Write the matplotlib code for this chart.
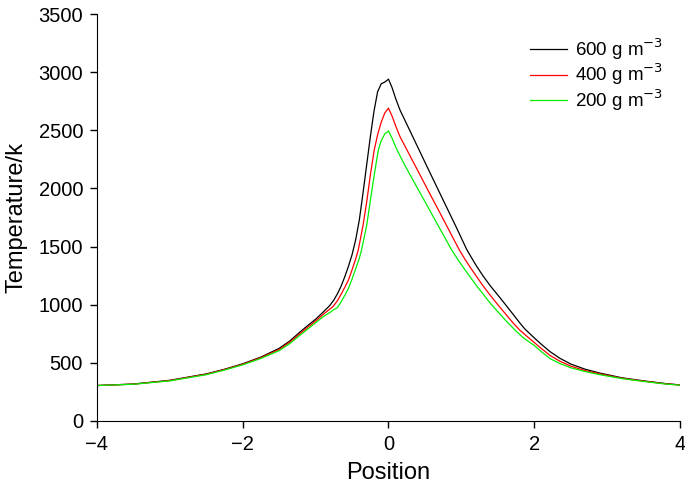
import numpy as np
import matplotlib
matplotlib.use("Agg")
import matplotlib.pyplot as plt

plt.rcParams['font.family'] = ['Liberation Sans', 'DejaVu Sans']

# 600 g m^-3 (black)
x_600 = [-4.0, -3.5, -3.0, -2.5, -2.25, -2.0, -1.75, -1.5, -1.35, -1.21, -1.1, -1.0, -0.9,
         -0.81, -0.75, -0.70, -0.65, -0.60, -0.55, -0.50, -0.45, -0.40, -0.35, -0.30,
         -0.25, -0.20, -0.15, -0.10, -0.05, 0.0, 0.05, 0.10, 0.158, 0.30, 0.432, 0.523,
         0.60, 0.70, 0.80, 0.935, 1.073, 1.2, 1.3, 1.4, 1.485, 1.6, 1.7, 1.8, 1.873,
         2.0, 2.1, 2.22, 2.35, 2.5, 2.7, 2.9, 3.2, 3.5, 3.8, 4.0]
t_600 = [305, 318, 350, 405, 445, 492, 550, 625, 690, 768, 825, 875, 935,
         990, 1040, 1095, 1160, 1240, 1330, 1430, 1560, 1730, 1960, 2200,
         2440, 2660, 2830, 2900, 2915, 2940, 2865, 2770, 2674, 2488, 2315, 2195,
         2095, 1965, 1835, 1660, 1475, 1340, 1245, 1160, 1095, 1005, 925, 845, 790,
         715, 658, 595, 540, 490, 445, 412, 372, 345, 322, 310]

# 400 g m^-3 (red)
x_400 = [-4.0, -3.5, -3.0, -2.5, -2.25, -2.0, -1.75, -1.5, -1.35, -1.21, -1.1, -1.0, -0.9,
         -0.8, -0.76, -0.70, -0.65, -0.60, -0.55, -0.50, -0.45, -0.415, -0.35, -0.30,
         -0.25, -0.196, -0.15, -0.10, -0.05, 0.0, 0.05, 0.10, 0.158, 0.25, 0.386, 0.50,
         0.60, 0.70, 0.80, 0.90, 0.973, 1.05, 1.118, 1.2, 1.3, 1.4, 1.5, 1.6, 1.7, 1.795,
         1.9, 2.0, 2.1, 2.22, 2.35, 2.5, 2.7, 2.9, 3.2, 3.5, 3.8, 4.0]
t_400 = [305, 317, 348, 402, 442, 488, 545, 615, 680, 754, 810, 860, 915,
         965, 985, 1035, 1090, 1150, 1212, 1300, 1395, 1470, 1680, 1880,
         2110, 2330, 2460, 2570, 2650, 2690, 2620, 2535, 2445, 2335, 2172, 2035,
         1915, 1797, 1677, 1557, 1470, 1390, 1325, 1250, 1160, 1078, 1000, 925, 850, 785,
         728, 675, 622, 562, 515, 472, 433, 405, 368, 343, 320, 310]

# 200 g m^-3 (green)
x_200 = [-4.0, -3.5, -3.0, -2.5, -2.25, -2.0, -1.75, -1.5, -1.35, -1.21, -1.1, -1.0, -0.9,
         -0.8, -0.75, -0.70, -0.65, -0.60, -0.55, -0.505, -0.45, -0.40, -0.37, -0.30,
         -0.255, -0.20, -0.14, -0.10, -0.05, 0.0, 0.05, 0.10, 0.158, 0.25, 0.35, 0.432,
         0.55, 0.65, 0.75, 0.867, 0.95, 1.05, 1.118, 1.2, 1.3, 1.4, 1.5, 1.6, 1.736,
         1.85, 2.0, 2.1, 2.22, 2.35, 2.5, 2.7, 2.9, 3.2, 3.5, 3.8, 4.0]
t_200 = [305, 316, 345, 398, 438, 483, 538, 605, 668, 740, 795, 845, 895,
         935, 958, 975, 1025, 1080, 1140, 1212, 1310, 1400, 1470, 1680,
         1870, 2100, 2330, 2410, 2470, 2494, 2430, 2355, 2280, 2169, 2056, 1963,
         1830, 1716, 1603, 1470, 1390, 1300, 1241, 1170, 1090, 1010, 940, 870, 782,
         715, 650, 595, 535, 495, 458, 425, 398, 365, 340, 318, 308]

labels = ['600 g m$^{-3}$', '400 g m$^{-3}$', '200 g m$^{-3}$']
colors = ['#000000', '#ff0000', '#00ee00']

fig = plt.figure(figsize=(6.85, 4.88), dpi=100)
ax = fig.add_axes([0.1416, 0.1373, 0.8511, 0.834])

ax.plot(x_600, t_600, color=colors[0], lw=0.9, label=labels[0])
ax.plot(x_400, t_400, color=colors[1], lw=0.9, label=labels[1])
ax.plot(x_200, t_200, color=colors[2], lw=0.9, label=labels[2])

ax.set_xlim(-4, 4)
ax.set_ylim(0, 3500)
ax.set_xticks([-4, -2, 0, 2, 4])
ax.set_yticks(np.arange(0, 3501, 500))
ax.spines['top'].set_visible(False)
ax.spines['right'].set_visible(False)
ax.tick_params(direction='out', length=5, width=1, labelsize=14.5, pad=5)
ax.set_xlabel('Position', fontsize=17, labelpad=6)
ax.set_ylabel('Temperature/k', fontsize=17, labelpad=8)

ax.legend(loc='upper right', frameon=False, fontsize=13.5, handlelength=2.0,
          handletextpad=0.4, labelspacing=0.0, bbox_to_anchor=(1.0, 0.987))

fig.savefig('out.png', dpi=100)
